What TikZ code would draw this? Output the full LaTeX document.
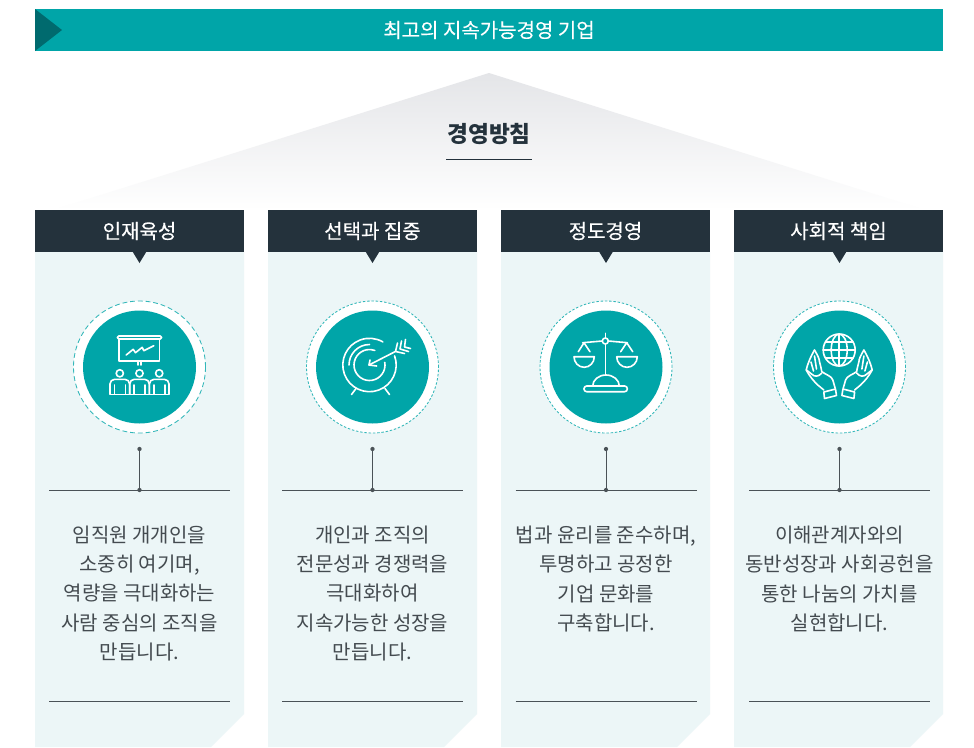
\documentclass[tikz,border=0pt]{standalone}
\usepackage{fontspec}
\setmainfont{Noto Sans CJK KR}
\newfontfamily\medfont[FakeBold=0.25]{Noto Sans CJK KR}
\definecolor{teal1}{HTML}{00A5A8}
\definecolor{teal2}{HTML}{006A6E}
\definecolor{navy}{HTML}{24323C}
\definecolor{pale}{HTML}{ECF6F7}
\definecolor{bodytxt}{HTML}{444B50}
\definecolor{rule}{HTML}{4A5257}
\definecolor{roofgrey}{HTML}{E4E5E8}
\tikzset{
  x=0.75pt,y=-0.75pt,
  banner/.style={fill=teal1,draw=none,minimum width=681pt,minimum height=31.5pt,inner sep=0pt,text=white,font=\medfont\fontsize{15}{18}\selectfont},
  cardhead/.style={fill=navy,draw=none,minimum width=156.75pt,minimum height=31.5pt,inner sep=0pt,text=white,font=\medfont\fontsize{15}{18}\selectfont},
  cardbody/.style={fill=pale,draw=none},
  cardtext/.style={align=center,text=bodytxt,inner sep=0pt,font=\fontsize{15}{22.1}\selectfont},
  iconline/.style={draw=white,line width=1.2pt,line cap=round,line join=round},
  rulebar/.style={draw=rule,line width=0.7pt},
  enddot/.style={circle,fill=rule,draw=none,inner sep=0pt,minimum size=3.2pt},
  ringteal/.style={circle,fill=teal1,draw=none,inner sep=0pt,minimum size=84.75pt},
  ringdash/.style={circle,fill=white,draw=teal1!80,line width=0.65pt,inner sep=0pt,minimum size=99pt},
}
\newcommand{\iconboard}{
  \draw[iconline,rounded corners=1pt] (-22,-31) rectangle (22,-28);
  \draw[iconline] (-20.5,-28) -- (-20.5,-6.3) -- (20,-6.3) -- (20,-28);
  \draw[iconline] (-13.3,-12) -- (-6.3,-17.7) -- (-4,-14.3) -- (2.7,-19.7) -- (4.3,-16.3) -- (14.3,-21.3);
  \draw[iconline] (-1.7,-6) -- (-1.7,-2) (1.7,-6) -- (1.7,-2);
  \foreach \hx in {-19.7,0,19.7}{
    \draw[iconline] (\hx,6.3) circle [radius=3.6];
    \draw[iconline,rounded corners=3.5pt] (\hx-9.8,27) -- (\hx-9.8,12.3) -- (\hx+9.8,12.3) -- (\hx+9.8,27);
    \draw[iconline] (\hx-5.5,18) -- (\hx-5.5,27) (\hx+5.5,18) -- (\hx+5.5,27);
  }
  \draw[iconline] (-29.5,27.3) -- (29.5,27.3);
}
\newcommand{\icontarget}{
  \draw[iconline] (-3,-2) ++(-20:26.7) arc[start angle=-20,end angle=300,radius=26.7];
  \draw[iconline] (-23.5,-2) arc[start angle=180,end angle=270,radius=20.5];
  \draw[iconline] (-3,-2) ++(-10:15.5) arc[start angle=-10,end angle=290,radius=15.5];
  \draw[iconline] (-3.5,-2) -- (22.5,-15.3);
  \draw[iconline] (-2.5,-7) -- (-3.5,-2) -- (4.2,-1);
  \draw[iconline] (25,-24) -- (23,-15.5) -- (32,-13.5);
  \draw[iconline] (29,-26) -- (27.5,-18) -- (36,-15.5);
  \draw[iconline] (33,-27.5) -- (32,-20) -- (38,-18.5);
  \draw[iconline] (-21,27.5) -- (-16.5,21.5) (17,27.5) -- (12.5,21.5);
}
\newcommand{\iconscale}{
  \draw[iconline] (-0.7,-33.7) -- (-0.7,-29);
  \draw[iconline] (-0.7,-26) circle [radius=3];
  \draw[iconline] (-0.7,-23) -- (-0.7,8);
  \draw[iconline] (-3.7,-26) -- (-23.3,-24.3) (2.3,-26) -- (21.3,-24.3);
  \draw[iconline] (-27.7,-15.3) -- (-22,-24.3) -- (-16,-15.3);
  \draw[iconline] (14.7,-15.3) -- (20.7,-24.3) -- (26.7,-15.3);
  \draw[iconline] (-32,-10.3) -- (-11.7,-10.3) arc[start angle=0,end angle=180,x radius=10.15,y radius=10.6];
  \draw[iconline] (10.7,-10.3) -- (31.3,-10.3) arc[start angle=0,end angle=180,x radius=10.3,y radius=10.6];
  \draw[iconline] (-13.3,19) arc[start angle=180,end angle=360,x radius=13.3,y radius=11];
  \draw[iconline,rounded corners=2pt] (-22,19) rectangle (21.3,24.7);
}
\newcommand{\handshape}{
  \draw[iconline] (-25,-17) .. controls (-29,-10) and (-32,-3) .. (-33.3,3) .. controls (-30,9) and (-26,14) .. (-21.7,18) -- (-15.7,23);
  \draw[iconline] (-25,-17) .. controls (-22,-12) and (-20,-8) .. (-20,-5.3) .. controls (-19,-1) and (-18,2) .. (-17.7,4.7) .. controls (-13,8) and (-8,9) .. (-6.7,13) -- (-4.3,21.3);
  \draw[iconline] (-15.7,25) -- (-4,22) -- (-3,28.5) -- (-15,31.5) -- cycle;
  \draw[iconline] (-25,-11) -- (-23,2) (-28.5,-5) -- (-26,4);
  \draw[iconline] (-33,3) -- (-28,7) .. controls (-25,10) and (-21,10) .. (-17.7,6);
}
\newcommand{\iconglobe}{
  \begin{scope}[shift={(-0.3,-17)}]
    \draw[iconline] (0,0) circle [radius=16];
    \draw[iconline] (0,0) circle [x radius=8,y radius=16];
    \draw[iconline] (0,-16) -- (0,16) (-16,0) -- (16,0);
    \draw[iconline] (-13.8,-8) -- (13.8,-8) (-13.8,8) -- (13.8,8);
  \end{scope}
  \handshape
  \begin{scope}[xscale=-1,shift={(0.6,0)}]\handshape\end{scope}
}
% #1 name, #2 card centre x, #3 icon/rule/text centre x, #4 title, #5 text, #6 text centre y, #7 icon, #8 dash on, #9 dash off
\newcommand{\drawcard}[9]{
  \fill[cardbody] (#2-104.5,252) -- (#2+104.5,252) -- (#2+104.5,714) -- (#2+71.5,747) -- (#2-104.5,747) -- cycle;
  \node[cardhead] (#1head) at (#2,231) {#4};
  \fill[navy] (#3-7,251.5) -- (#3+7,251.5) -- (#3,263) -- cycle;
  \node[ringdash,dash pattern=on #8pt off #9pt] (#1dash) at (#3,367) {};
  \node[ringteal] (#1disc) at (#3,367) {};
  \begin{scope}[shift={(#3,367)}]#7\end{scope}
  \node[enddot] (#1top) at (#3,449) {};
  \node[enddot] (#1foot) at (#3,490) {};
  \coordinate (#1ruleL) at (#3-90.5,490);
  \coordinate (#1ruleR) at (#3+90.5,490);
  \coordinate (#1lowL) at (#3-90.5,701);
  \coordinate (#1lowR) at (#3+90.5,701);
  \draw[rulebar] (#1top) -- (#1foot);
  \draw[rulebar] (#1ruleL) -- (#1ruleR);
  \draw[rulebar] (#1lowL) -- (#1lowR);
  \node[cardtext] (#1text) at (#3,#6) {#5};
}
\begin{document}
\begin{tikzpicture}
\useasboundingbox (0,0) rectangle (974,747);
\fill[white] (0,0) rectangle (974,747);
% banner
\node[banner] (banner) at (489,30) {최고의 지속가능경영 기업};
\fill[teal2] (35,9) -- (62,30) -- (35,51) -- cycle;
% roof
\shade[top color=roofgrey,bottom color=white] (489,73) -- (925,210) -- (53,210) -- cycle;
\node[inner sep=0pt,text=navy,font=\fontsize{17}{20}\selectfont\bfseries] (policy) at (489,134) {경영방침};
\coordinate (policyL) at (446,159.5);
\coordinate (policyR) at (532,159.5);
\draw[draw=navy,line width=0.75pt] (policyL) -- (policyR);
% cards
\drawcard{a}{139.5}{139.5}{인재육성}{임직원 개개인을\\소중히 여기며,\\역량을 극대화하는\\사람 중심의 조직을\\만듭니다.}{593.5}{\iconboard}{3.6}{2.2}
\drawcard{b}{372.5}{372.5}{선택과 집중}{개인과 조직의\\전문성과 경쟁력을\\극대화하여\\지속가능한 성장을\\만듭니다.}{593.5}{\icontarget}{1.8}{1.4}
\drawcard{c}{605.5}{606}{정도경영}{법과 윤리를 준수하며,\\투명하고 공정한\\기업 문화를\\구축합니다.}{579}{\iconscale}{1.8}{1.4}
\drawcard{d}{838.5}{839.5}{사회적 책임}{이해관계자와의\\동반성장과 사회공헌을\\통한 나눔의 가치를\\실현합니다.}{579}{\iconglobe}{1.8}{1.4}
\end{tikzpicture}
\end{document}
